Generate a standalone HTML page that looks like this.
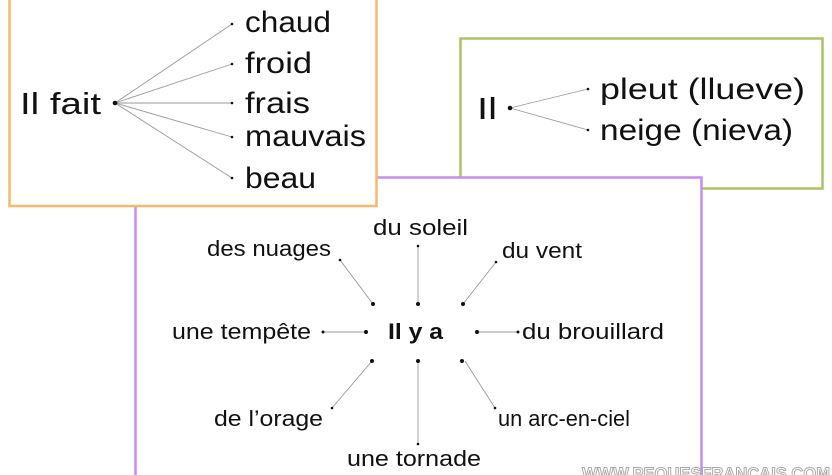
<!DOCTYPE html>
<html><head><meta charset="utf-8"><style>
html,body{margin:0;padding:0;background:#fff;width:832px;height:475px;overflow:hidden}
text{font-family:"Liberation Sans","DejaVu Sans",sans-serif;fill:#111}
</style></head><body>
<svg width="832" height="475" viewBox="0 0 832 475" xmlns="http://www.w3.org/2000/svg">
<rect x="460.5" y="38.5" width="362" height="150" fill="#fff" stroke="#a8c564" stroke-width="2.5"/>
<rect x="135.5" y="177.5" width="566" height="310" fill="#fff" stroke="#c98cf0" stroke-width="2.5"/>
<rect x="9.5" y="-10" width="367" height="216" fill="#fff" stroke="#f8b86a" stroke-width="2.5"/>

<g stroke="#999" stroke-width="0.9">
<line x1="115" y1="103" x2="232" y2="24"/>
<line x1="115" y1="103" x2="232" y2="64"/>
<line x1="115" y1="103" x2="232" y2="103"/>
<line x1="115" y1="103" x2="232" y2="137"/>
<line x1="115" y1="103" x2="232" y2="178"/>
</g>
<circle cx="115" cy="103" r="2.3" fill="#111"/>
<g fill="#111"><circle cx="232" cy="24" r="1.3"/><circle cx="232" cy="64" r="1.3"/><circle cx="232" cy="103" r="1.3"/><circle cx="232" cy="137" r="1.3"/><circle cx="232" cy="178" r="1.3"/></g>
<text x="20" y="114" font-size="31" textLength="81" lengthAdjust="spacingAndGlyphs">Il fait</text>
<g font-size="30">
<text x="245" y="32" textLength="86" lengthAdjust="spacingAndGlyphs">chaud</text>
<text x="245" y="73" textLength="67" lengthAdjust="spacingAndGlyphs">froid</text>
<text x="245" y="113" textLength="65" lengthAdjust="spacingAndGlyphs">frais</text>
<text x="245" y="146" textLength="121" lengthAdjust="spacingAndGlyphs">mauvais</text>
<text x="245" y="188" textLength="71" lengthAdjust="spacingAndGlyphs">beau</text>
</g>

<g stroke="#999" stroke-width="0.9">
<line x1="510" y1="108" x2="588" y2="89"/>
<line x1="510" y1="108" x2="588" y2="130"/>
</g>
<circle cx="510" cy="108" r="2.3" fill="#111"/>
<circle cx="588" cy="89" r="1.3" fill="#111"/><circle cx="588" cy="130" r="1.3" fill="#111"/>
<text x="477" y="119" font-size="31" textLength="20" lengthAdjust="spacingAndGlyphs">Il</text>
<g font-size="30">
<text x="600" y="99" textLength="205" lengthAdjust="spacingAndGlyphs">pleut (llueve)</text>
<text x="600" y="140" textLength="193" lengthAdjust="spacingAndGlyphs">neige (nieva)</text>
</g>

<g stroke="#999" stroke-width="0.9">
<line x1="340" y1="260" x2="373" y2="304"/>
<line x1="418" y1="246" x2="418" y2="304"/>
<line x1="496" y1="262" x2="463" y2="304"/>
<line x1="323" y1="332" x2="366" y2="332"/>
<line x1="477" y1="332" x2="518" y2="332"/>
<line x1="372" y1="361" x2="332" y2="408"/>
<line x1="418" y1="361" x2="418" y2="444"/>
<line x1="465" y1="361" x2="495" y2="408"/>
</g>
<g fill="#111">
<circle cx="340" cy="260" r="1.3"/><circle cx="373" cy="304" r="2"/>
<circle cx="418" cy="246" r="1.3"/><circle cx="418" cy="304" r="2"/>
<circle cx="496" cy="262" r="1.3"/><circle cx="463" cy="304" r="2"/>
<circle cx="323" cy="332" r="1.5"/><circle cx="366" cy="332" r="2"/>
<circle cx="477" cy="332" r="2"/><circle cx="518" cy="332" r="1.5"/>
<circle cx="372" cy="361" r="2"/><circle cx="332" cy="408" r="1.3"/>
<circle cx="418" cy="361" r="2"/><circle cx="418" cy="444" r="1.3"/>
<circle cx="462" cy="361" r="2"/><circle cx="495" cy="408" r="1.3"/>
</g>
<text x="388" y="339" font-size="22" font-weight="bold" textLength="55" lengthAdjust="spacingAndGlyphs">Il y a</text>
<g font-size="22">
<text x="207" y="256" textLength="124" lengthAdjust="spacingAndGlyphs">des nuages</text>
<text x="373" y="235" textLength="95" lengthAdjust="spacingAndGlyphs">du soleil</text>
<text x="502" y="258" textLength="80" lengthAdjust="spacingAndGlyphs">du vent</text>
<text x="172" y="339" textLength="139" lengthAdjust="spacingAndGlyphs">une tempête</text>
<text x="522" y="339" textLength="142" lengthAdjust="spacingAndGlyphs">du brouillard</text>
<text x="214" y="426" textLength="109" lengthAdjust="spacingAndGlyphs">de l’orage</text>
<text x="347" y="466" textLength="134" lengthAdjust="spacingAndGlyphs">une tornade</text>
<text x="498" y="426" textLength="132" lengthAdjust="spacingAndGlyphs">un arc-en-ciel</text>
</g>
<text x="582" y="479" font-size="17" font-weight="bold" textLength="248" lengthAdjust="spacingAndGlyphs" style="fill:#fff;stroke:#aaa;stroke-width:1">WWW.PEQUESFRANCAIS.COM</text>
</svg>
</body></html>
